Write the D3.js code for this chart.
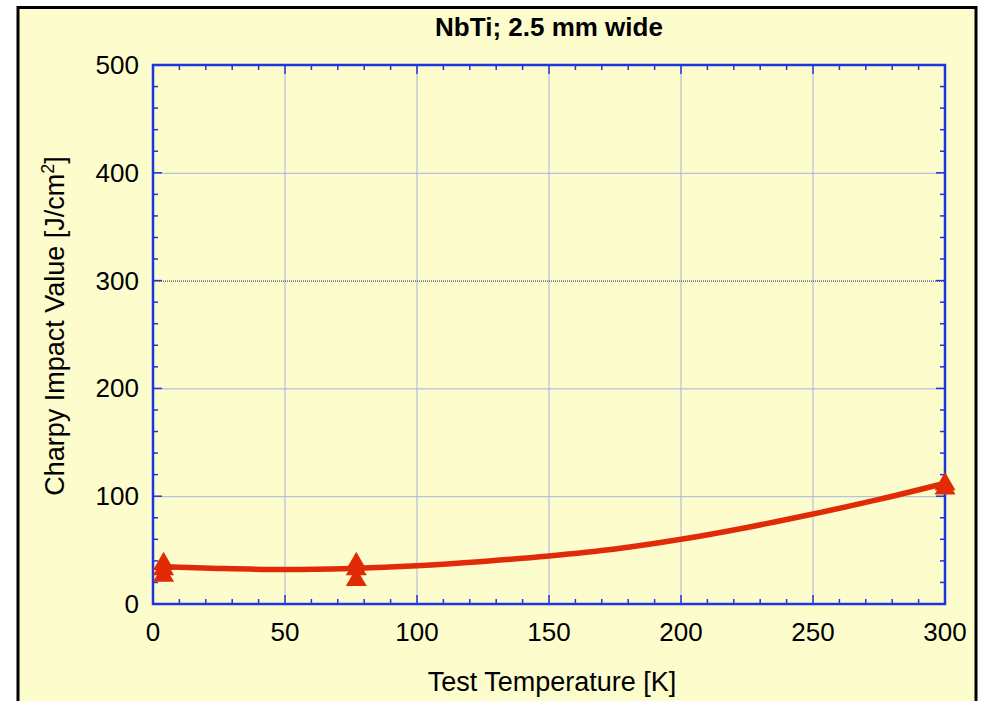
<!DOCTYPE html>
<html>
<head>
<meta charset="utf-8">
<script src="https://cdn.jsdelivr.net/npm/d3@7"></script>
<style>
  html, body { margin: 0; padding: 0; background: #ffffff; }
  svg { display: block; font-family: "Liberation Sans", Arial, Helvetica, sans-serif; }
</style>
</head>
<body>
<svg id="chart" width="982" height="701"></svg>
<script>
// Measured Charpy impact values (test temperature K, J/cm^2)
const sampleTemps  = [4, 4, 4, 77, 77, 77, 300, 300];
const sampleValues = [40, 35, 29, 40, 35, 25, 114, 110];

// Trend curve read at regular temperatures
const trendTemps  = [4, 25, 50, 75, 100, 125, 150, 175, 200, 225, 250, 275, 300];
const trendValues = [34.5, 33, 32, 33, 35.5, 39.5, 44.5, 51, 60, 71, 83.5, 97, 112];

const xTicks = [0, 50, 100, 150, 200, 250, 300];
const yTicks = [0, 100, 200, 300, 400, 500];

const titleText = "NbTi; 2.5 mm wide";
const xLabel = "Test Temperature [K]";

const svg = d3.select("#chart");
const plot = { left: 153, right: 945, top: 65, bottom: 604 };

const red = "#e12a06";
const axisBlue = "#1f35e0";
const gridBlue = "#a7b3de";

// panel background and frame
svg.append("rect").attr("x", 18).attr("y", 7.5).attr("width", 958).attr("height", 720)
  .attr("fill", "#fcfccc").attr("stroke", "#000").attr("stroke-width", 3);

const x = d3.scaleLinear().domain([0, 300]).range([plot.left, plot.right]);
const y = d3.scaleLinear().domain([0, 500]).range([plot.bottom, plot.top]);

// grid
const g = svg.append("g");
g.selectAll(".vgrid").data(xTicks.slice(1, -1)).join("line")
  .attr("x1", d => x(d)).attr("x2", d => x(d))
  .attr("y1", plot.top).attr("y2", plot.bottom)
  .attr("stroke", gridBlue).attr("stroke-width", 1);
g.selectAll(".hgrid").data(yTicks.slice(1, -1)).join("line")
  .attr("x1", plot.left).attr("x2", plot.right)
  .attr("y1", d => y(d) + 0.5).attr("y2", d => y(d) + 0.5)
  .attr("stroke", d => d === 300 ? "#222244" : gridBlue)
  .attr("stroke-width", 1)
  .attr("stroke-dasharray", d => d === 300 ? "1,1" : null);

// inward ticks on all four sides
const xMinor = d3.range(0, 301, 10);
const yMinor = d3.range(0, 501, 20);
const tk = svg.append("g").attr("stroke", axisBlue).attr("stroke-width", 1.5);
function tickLen(isMajor) { return isMajor ? 9 : 5; }
xMinor.forEach(v => {
  const L = tickLen(v % 50 === 0);
  tk.append("line").attr("x1", x(v)).attr("x2", x(v)).attr("y1", plot.bottom).attr("y2", plot.bottom - L);
  tk.append("line").attr("x1", x(v)).attr("x2", x(v)).attr("y1", plot.top).attr("y2", plot.top + L);
});
yMinor.forEach(v => {
  const L = tickLen(v % 100 === 0);
  tk.append("line").attr("y1", y(v)).attr("y2", y(v)).attr("x1", plot.left).attr("x2", plot.left + L);
  tk.append("line").attr("y1", y(v)).attr("y2", y(v)).attr("x1", plot.right).attr("x2", plot.right - L);
});

// axis frame
svg.append("rect").attr("x", plot.left).attr("y", plot.top)
  .attr("width", plot.right - plot.left).attr("height", plot.bottom - plot.top)
  .attr("fill", "none").attr("stroke", axisBlue).attr("stroke-width", 2.5);

// tick labels
svg.append("g").selectAll("text").data(xTicks).join("text")
  .attr("x", d => x(d)).attr("y", 641)
  .attr("text-anchor", "middle").attr("font-size", 26).attr("fill", "#000")
  .text(d => d);
svg.append("g").selectAll("text").data(yTicks).join("text")
  .attr("x", plot.left - 14).attr("y", d => y(d) + 9)
  .attr("text-anchor", "end").attr("font-size", 26).attr("fill", "#000")
  .text(d => d);

// titles
svg.append("text").attr("x", 549).attr("y", 36).attr("text-anchor", "middle")
  .attr("font-size", 26).attr("font-weight", "bold").text(titleText);
svg.append("text").attr("x", 552).attr("y", 691).attr("text-anchor", "middle")
  .attr("font-size", 27).text(xLabel);
const yl = svg.append("text").attr("transform", "translate(64,326) rotate(-90)")
  .attr("text-anchor", "middle").attr("font-size", 27);
yl.append("tspan").text("Charpy Impact Value [J/cm");
yl.append("tspan").attr("font-size", 18).attr("dy", -10).text("2");
yl.append("tspan").attr("dy", 10).text("]");

// trend curve
const line = d3.line().x((d, i) => x(trendTemps[i])).y(d => y(d)).curve(d3.curveMonotoneX);
svg.append("path").datum(trendValues).attr("d", line)
  .attr("fill", "none").attr("stroke", red).attr("stroke-width", 5.5).attr("stroke-linecap", "round");

// triangle markers, centred on their bounding box
const triangleMark = {
  draw(ctx, size) {
    const w = Math.sqrt(size), h = w * 0.86;
    ctx.moveTo(0, -h / 2);
    ctx.lineTo(w / 2, h / 2);
    ctx.lineTo(-w / 2, h / 2);
    ctx.closePath();
  }
};
const tri = d3.symbol().type(triangleMark).size(441);
svg.append("g").selectAll("path").data(sampleValues).join("path")
  .attr("d", tri)
  .attr("transform", (d, i) => `translate(${x(sampleTemps[i])},${y(d)})`)
  .attr("fill", red);
</script>
</body>
</html>
